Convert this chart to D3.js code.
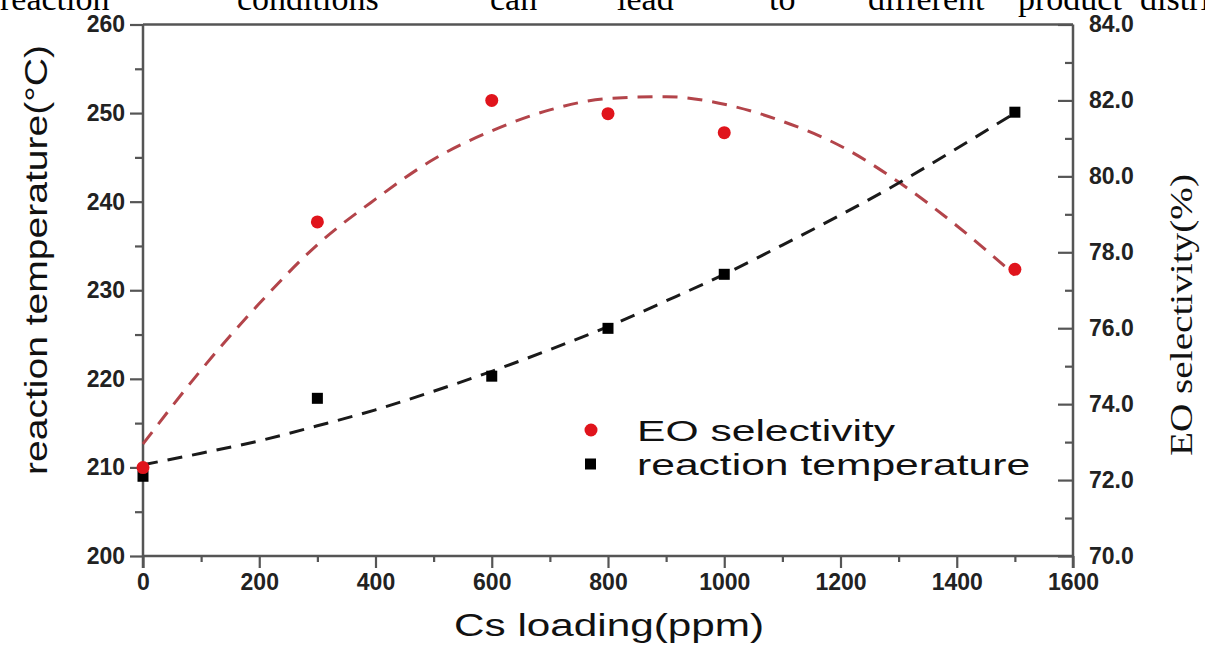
<!DOCTYPE html>
<html><head><meta charset="utf-8">
<script src="https://cdn.jsdelivr.net/npm/d3@7"></script>
<style>
html,body{margin:0;padding:0;background:#fff;}
svg{display:block;}
</style></head>
<body>
<svg id="chart" width="1205" height="645"></svg>
<script>
// ---- data ----
const csLoading = [0, 300, 600, 800, 1000, 1500];
const eoSelectivity = [72.33, 78.8, 82.0, 81.65, 81.15, 77.55];
const reactionTemp = [209.0, 217.8, 220.3, 225.7, 231.8, 250.1];
// fitted trend curves
const fitX = [0, 100, 200, 300, 400, 500, 600, 700, 800, 900, 1000, 1100, 1200, 1300, 1400, 1500];
const eoFit = [72.95, 74.9, 76.65, 78.2, 79.4, 80.45, 81.2, 81.75, 82.05, 82.1, 81.9, 81.45, 80.8, 79.85, 78.7, 77.4];
const tempFit = [210.3, 211.6, 213.0, 214.7, 216.5, 218.6, 220.85, 223.3, 225.9, 228.8, 231.8, 235.1, 238.5, 242.1, 246.0, 250.0];
const xTicks = [0, 200, 400, 600, 800, 1000, 1200, 1400, 1600];
const leftTicks = [200, 210, 220, 230, 240, 250, 260];
const rightTicks = [70, 72, 74, 76, 78, 80, 82, 84];
const legendLabels = ["EO selectivity", "reaction temperature"];
const headerWords = ["reaction", "conditions", "can", "lead", "to", "different", "product", "distributions."];
const headerWordX = [0, 237, 490, 617, 769, 868, 1018, 1140];

const svg = d3.select("#chart");
const L = 143, R = 1073, T = 24.5, B = 556;
const x = d3.scaleLinear().domain([0, 1600]).range([L, R]);
const yL = d3.scaleLinear().domain([200, 260]).range([B, T]);
const yR = d3.scaleLinear().domain([70, 84]).range([B, T]);
const axisColor = "#555";
const tickFont = "'Liberation Sans', Arial, sans-serif";

// header cut text
svg.append("g").selectAll("text").data(headerWords).join("text")
  .attr("x", (d, i) => headerWordX[i]).attr("y", 10)
  .attr("font-family", "'Liberation Serif', 'Times New Roman', serif")
  .attr("font-size", 34).attr("fill", "#000").text(d => d);

function styleAxis(g) {
  g.select(".domain").remove();
  g.selectAll("line").attr("stroke", axisColor).attr("stroke-width", 2.2);
  g.selectAll("text").attr("font-family", tickFont).attr("font-size", 23)
    .attr("font-weight", "bold").attr("fill", "#222");
}

// minor ticks
const xMinor = d3.range(100, 1600, 200);
const lMinor = d3.range(205, 260, 10);
const rMinor = d3.range(71, 84, 2);
svg.append("g").attr("transform", `translate(0,${B})`)
  .call(d3.axisBottom(x).tickValues(xMinor).tickSize(6).tickFormat(""))
  .call(styleAxis);
svg.append("g").attr("transform", `translate(${L},0)`)
  .call(d3.axisLeft(yL).tickValues(lMinor).tickSize(8).tickFormat(""))
  .call(styleAxis);
svg.append("g").attr("transform", `translate(${R},0)`)
  .call(d3.axisRight(yR).tickValues(rMinor).tickSize(-8).tickFormat(""))
  .call(styleAxis);

// major ticks
svg.append("g").attr("transform", `translate(0,${B})`)
  .call(d3.axisBottom(x).tickValues(xTicks).tickSize(12).tickPadding(6).tickFormat(d3.format("d")))
  .call(styleAxis);
svg.append("g").attr("transform", `translate(${L},0)`)
  .call(d3.axisLeft(yL).tickValues(leftTicks).tickSize(13).tickPadding(5).tickFormat(d3.format("d")))
  .call(styleAxis);
svg.append("g").attr("transform", `translate(${R},0)`)
  .call(d3.axisRight(yR).tickValues(rightTicks).tickSizeInner(-15).tickSizeOuter(0).tickPadding(16).tickFormat(d3.format(".1f")))
  .call(styleAxis);

// frame lines
const frame = svg.append("g").attr("stroke", axisColor).attr("stroke-width", 2.5).attr("fill", "none");
frame.append("line").attr("x1", L).attr("x2", R).attr("y1", B).attr("y2", B);
frame.append("line").attr("x1", L).attr("x2", R).attr("y1", T).attr("y2", T);
frame.append("line").attr("x1", L).attr("x2", L).attr("y1", T).attr("y2", B + 12);
frame.append("line").attr("x1", R).attr("x2", R).attr("y1", T).attr("y2", B + 12);

// fit lines
const lineEO = d3.line().x((d, i) => x(fitX[i])).y(d => yR(d)).curve(d3.curveMonotoneX);
const lineT = d3.line().x((d, i) => x(fitX[i])).y(d => yL(d)).curve(d3.curveMonotoneX);
svg.append("path").attr("d", lineEO(eoFit)).attr("fill", "none")
  .attr("stroke", "#b3444a").attr("stroke-width", 3).attr("stroke-dasharray", "15,10");
svg.append("path").attr("d", lineT(tempFit)).attr("fill", "none")
  .attr("stroke", "#1a1a1a").attr("stroke-width", 3).attr("stroke-dasharray", "15,10");

// points
svg.append("g").selectAll("rect").data(reactionTemp).join("rect")
  .attr("x", (d, i) => x(csLoading[i]) - 5.5).attr("y", d => yL(d) - 5.5)
  .attr("width", 11).attr("height", 11).attr("fill", "#000");
svg.append("g").selectAll("circle").data(eoSelectivity).join("circle")
  .attr("cx", (d, i) => x(csLoading[i])).attr("cy", d => yR(d))
  .attr("r", 6.5).attr("fill", "#e0141c");

// legend
const lg = svg.append("g");
const legY = [430, 464];
lg.append("circle").attr("cx", 591).attr("cy", legY[0]).attr("r", 6.5).attr("fill", "#e0141c");
lg.append("rect").attr("x", 585).attr("y", legY[1] - 5.5).attr("width", 11).attr("height", 11).attr("fill", "#000");
lg.selectAll("text").data(legendLabels).join("text")
  .attr("x", 637).attr("y", (d, i) => legY[i]).attr("dy", "0.36em")
  .attr("font-family", tickFont).attr("font-size", 30).attr("fill", "#111")
  .text(d => d)
  .each(function () { const w = this.getComputedTextLength(); d3.select(this).attr("textLength", w * 1.42).attr("lengthAdjust", "spacingAndGlyphs"); });

// axis titles
svg.append("text").attr("x", 609).attr("y", 636).attr("text-anchor", "middle")
  .attr("font-family", tickFont).attr("font-size", 31).attr("fill", "#111")
  .attr("textLength", 310).attr("lengthAdjust", "spacingAndGlyphs")
  .text("Cs loading(ppm)");
svg.append("text").attr("transform", "translate(47,260) rotate(-90)").attr("text-anchor", "middle")
  .attr("font-family", tickFont).attr("font-size", 32).attr("fill", "#111")
  .attr("textLength", 430).attr("lengthAdjust", "spacingAndGlyphs")
  .text("reaction temperature(°C)");
svg.append("text").attr("transform", "translate(1192,315) rotate(-90)").attr("text-anchor", "middle")
  .attr("font-family", "'Liberation Serif', 'Times New Roman', serif").attr("font-size", 32).attr("fill", "#111")
  .attr("textLength", 282).attr("lengthAdjust", "spacingAndGlyphs")
  .text("EO selectivity(%)");
</script>
</body></html>
